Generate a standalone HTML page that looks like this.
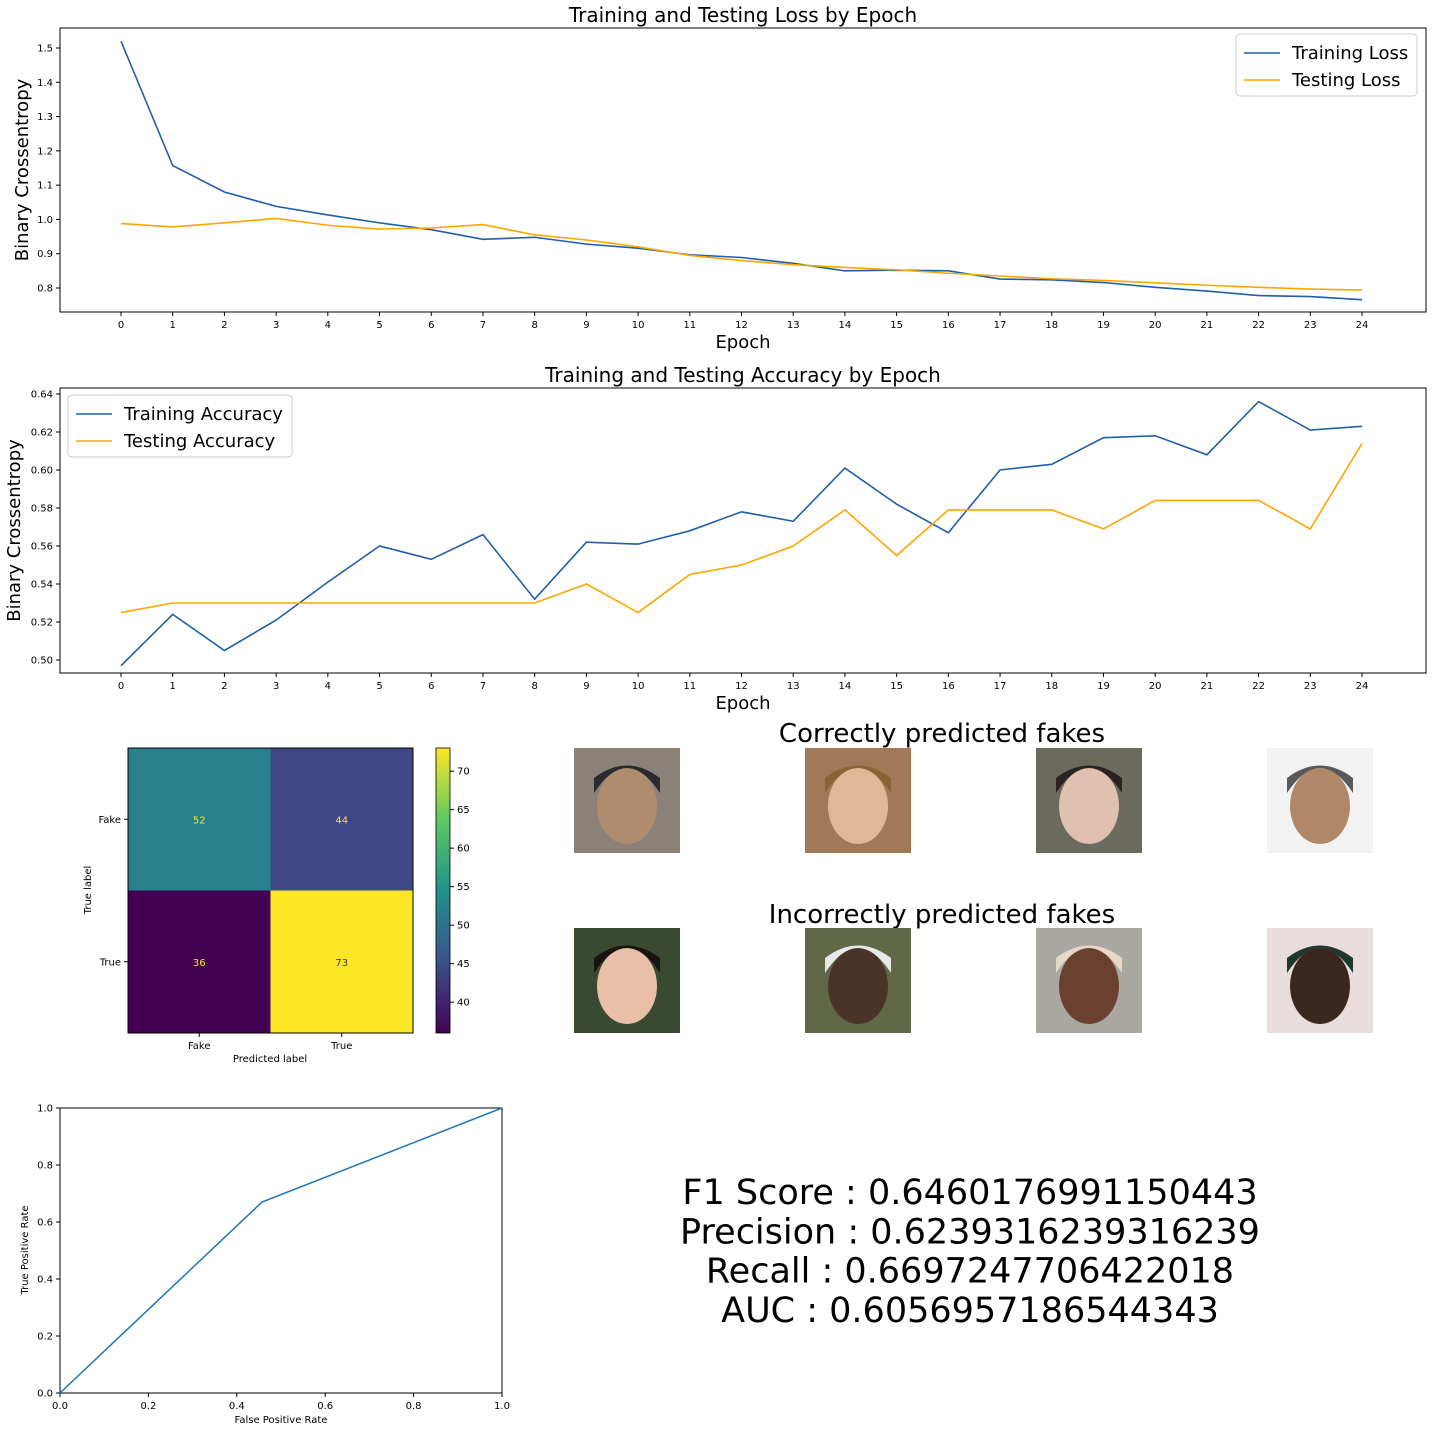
<!DOCTYPE html>
<html><head><meta charset="utf-8"><style>
body{margin:0;background:#fff;}
svg{display:block;font-family:"DejaVu Sans","Liberation Sans",sans-serif;}
</style></head><body>
<svg id="s" width="1432" height="1432" xmlns="http://www.w3.org/2000/svg">
<defs>
<linearGradient id="vir" x1="0" y1="1" x2="0" y2="0">
<stop offset="0" stop-color="#440154"/><stop offset="0.25" stop-color="#3b528b"/><stop offset="0.5" stop-color="#21918c"/><stop offset="0.75" stop-color="#5ec962"/><stop offset="1" stop-color="#fde725"/>
</linearGradient>
</defs>
</svg>
<script>
const epochs=[0,1,2,3,4,5,6,7,8,9,10,11,12,13,14,15,16,17,18,19,20,21,22,23,24];
const trainLoss=[1.52,1.157,1.08,1.038,1.013,0.99,0.97,0.942,0.948,0.928,0.916,0.897,0.889,0.872,0.85,0.852,0.85,0.826,0.824,0.816,0.802,0.791,0.778,0.775,0.766];
const testLoss=[0.988,0.978,0.99,1.003,0.983,0.972,0.975,0.985,0.955,0.94,0.92,0.895,0.88,0.868,0.86,0.853,0.843,0.835,0.827,0.822,0.815,0.808,0.802,0.797,0.794];
const lossTicks=[0.8,0.9,1.0,1.1,1.2,1.3,1.4,1.5];
const trainAcc=[0.497,0.524,0.505,0.521,0.541,0.56,0.553,0.566,0.532,0.562,0.561,0.568,0.578,0.573,0.601,0.582,0.567,0.6,0.603,0.617,0.618,0.608,0.636,0.621,0.623];
const testAcc=[0.525,0.53,0.53,0.53,0.53,0.53,0.53,0.53,0.53,0.54,0.525,0.545,0.55,0.56,0.579,0.555,0.579,0.579,0.579,0.569,0.584,0.584,0.584,0.569,0.614];
const accTicks=[0.50,0.52,0.54,0.56,0.58,0.60,0.62,0.64];
const cmLabels=["Fake","True"];
const cmValues=[[52,44],[36,73]];
const cbTicks=[40,45,50,55,60,65,70];
const rocFpr=[0,0.457,1];
const rocTpr=[0,0.67,1];
const rocTicks=[0,0.2,0.4,0.6,0.8,1.0];
const metrics=["F1 Score : 0.6460176991150443","Precision : 0.6239316239316239","Recall : 0.6697247706422018","AUC : 0.6056957186544343"];

const S=document.getElementById('s');const NS='http://www.w3.org/2000/svg';
function el(t,a,txt,p){const e=document.createElementNS(NS,t);for(const k in a)e.setAttribute(k,a[k]);if(txt!==undefined)e.textContent=txt;(p||S).appendChild(e);return e;}
const BLUE='#1f5fa8',ORANGE='#ffa500';

function lineChart(o){
  const g=el('g',{});
  const X=i=>o.x0+(i/24)*(o.x1-o.x0);
  const Y=v=>o.yA+(v-o.vA)/(o.vB-o.vA)*(o.yB-o.yA);
  el('rect',{x:o.L,y:o.T,width:o.R-o.L,height:o.B-o.T,fill:'none',stroke:'#000','stroke-width':1},undefined,g);
  epochs.forEach(e=>{const x=X(e);el('line',{x1:x,x2:x,y1:o.B,y2:o.B+4,stroke:'#000'},undefined,g);
    const t=el('text',{x:x,y:o.B+16,'font-size':10,'text-anchor':'middle'},String(e),g);});
  o.ticks.forEach(v=>{const y=Y(v);el('line',{x1:o.L-4,x2:o.L,y1:y,y2:y,stroke:'#000'},undefined,g);
    const t=el('text',{x:o.L-7,y:y+3.5,'font-size':10,'text-anchor':'end'},v.toFixed(o.dec),g);});
  [[o.s1,BLUE,'training-line'],[o.s2,ORANGE,'testing-line']].forEach(([d,c,n])=>{
    const p=el('polyline',{points:d.map((v,i)=>X(epochs[i])+','+Y(v)).join(' '),fill:'none',stroke:c,'stroke-width':1.6},undefined,g);
    });
  let t=el('text',{x:(o.L+o.R)/2,y:o.T-6,'font-size':20,'text-anchor':'middle'},o.title,g);
  t=el('text',{x:(o.L+o.R)/2,y:o.B+36,'font-size':18,'text-anchor':'middle'},'Epoch',g);
  t=el('text',{x:0,y:0,'font-size':18,'text-anchor':'middle',transform:`translate(${o.ytx},${(o.T+o.B)/2}) rotate(-90)`},'Binary Crossentropy',g);
  const lg=el('g',{},undefined,g);
  el('rect',{x:o.lx,y:o.ly,width:o.lw,height:62,rx:4,fill:'#fff',stroke:'#ccc'},undefined,lg);
  o.labels.forEach((lb,i)=>{const yy=o.ly+19+i*27;
    el('line',{x1:o.lx+8,x2:o.lx+44,y1:yy,y2:yy,stroke:i?ORANGE:BLUE,'stroke-width':1.6},undefined,lg);
    const tt=el('text',{x:o.lx+56,y:yy+6,'font-size':18},lb,lg);});
}
lineChart({name:'loss-chart',L:60,R:1426,T:28,B:312,x0:121,x1:1362,vA:1.5,yA:48,vB:0.8,yB:288,ticks:lossTicks,dec:1,s1:trainLoss,s2:testLoss,title:'Training and Testing Loss by Epoch',ytx:28,lx:1236,ly:34,lw:181,labels:['Training Loss','Testing Loss']});
lineChart({name:'accuracy-chart',L:60,R:1426,T:388,B:673,x0:121,x1:1362,vA:0.64,yA:394,vB:0.50,yB:660,ticks:accTicks,dec:2,s1:trainAcc,s2:testAcc,title:'Training and Testing Accuracy by Epoch',ytx:20,lx:68,ly:395,lw:224,labels:['Training Accuracy','Testing Accuracy']});

// confusion matrix
(function(){
  const g=el('g',{});
  const L=128,T=748,W=285,vmin=36,vmax=73;
  const stops=[[0,[68,1,84]],[0.25,[59,82,139]],[0.5,[33,145,140]],[0.75,[94,201,98]],[1,[253,231,37]]];
  function cmap(v){const t=(v-vmin)/(vmax-vmin);for(let i=1;i<stops.length;i++){if(t<=stops[i][0]){const a=stops[i-1],b=stops[i],f=(t-a[0])/(b[0]-a[0]);return 'rgb('+a[1].map((c,k)=>Math.round(c+(b[1][k]-c)*f)).join(',')+')';}}return 'rgb(253,231,37)';}
  const cw=W/2;
  cmValues.forEach((row,r)=>row.forEach((v,c)=>{
    const rc=el('rect',{x:L+c*cw,y:T+r*cw,width:cw,height:cw,fill:cmap(v)},undefined,g);
    const t=el('text',{x:L+c*cw+cw/2,y:T+r*cw+cw/2+4,'font-size':10,'text-anchor':'middle',fill:v>60?'#3b3b3b':'#fde725'},String(v),g);
  }));
  el('rect',{x:L,y:T,width:W,height:W,fill:'none',stroke:'#000'},undefined,g);
  cmLabels.forEach((lb,i)=>{const c=L+i*cw+cw/2;
    el('line',{x1:c,x2:c,y1:T+W,y2:T+W+4,stroke:'#000'},undefined,g);
    el('text',{x:c,y:T+W+16,'font-size':10,'text-anchor':'middle'},lb,g);
    el('line',{x1:L-4,x2:L,y1:T+c-L,y2:T+c-L,stroke:'#000'},undefined,g);
    el('text',{x:L-7,y:T+c-L+3.5,'font-size':10,'text-anchor':'end'},lb,g);});
  el('text',{x:270,y:1062,'font-size':10,'text-anchor':'middle'},'Predicted label',g);
  el('text',{x:0,y:0,'font-size':10,'text-anchor':'middle',transform:'translate(91,890) rotate(-90)'},'True label',g);
  const cb=el('rect',{x:436,y:748,width:14,height:285,fill:'url(#vir)',stroke:'#000','stroke-width':0.8},undefined,g);
  cbTicks.forEach(v=>{const y=1033-(v-vmin)/(vmax-vmin)*285;el('line',{x1:450,x2:454,y1:y,y2:y,stroke:'#000'},undefined,g);el('text',{x:457,y:y+3.5,'font-size':10},String(v),g);});
})();

// faces
(function(){
  let t=el('text',{x:942,y:742,'font-size':26,'text-anchor':'middle'},'Correctly predicted fakes');
  t=el('text',{x:942,y:923,'font-size':26,'text-anchor':'middle'},'Incorrectly predicted fakes');
  const xs=[574,805,1036,1267];
  const faces=[[['#8a8278','#b08c6e','#2a2a30'],['#a07a58','#e0b898','#8a6238'],['#6a6a5e','#e0c0b0','#2a2220'],['#f2f2f2','#b08868','#5a5858']],
               [['#3a4a30','#e8c0a8','#1a1410'],['#606848','#4a3428','#e8e8e8'],['#a8a8a0','#6a4030','#e8d8c8'],['#e8dcdc','#3a2820','#1e3830']]];
  faces.forEach((row,r)=>row.forEach((f,i)=>{
    const g=el('g',{});
    const x=xs[i],y=r?928:748;
    el('rect',{x:x,y:y,width:106,height:105,fill:f[0]},undefined,g);
    el('ellipse',{cx:x+53,cy:y+58,rx:30,ry:38,fill:f[1]},undefined,g);
    el('path',{d:`M${x+20} ${y+45} Q${x+53} ${y-5} ${x+86} ${y+45} L${x+86} ${y+30} Q${x+53} ${y+5} ${x+20} ${y+30}Z`,fill:f[2]},undefined,g);
  }));
})();

// ROC
(function(){
  const g=el('g',{});
  const L=60,R=502,T=1108,B=1393;
  const X=v=>L+v*(R-L),Y=v=>B-v*(B-T);
  el('rect',{x:L,y:T,width:R-L,height:B-T,fill:'none',stroke:'#000'},undefined,g);
  rocTicks.forEach(v=>{el('line',{x1:X(v),x2:X(v),y1:B,y2:B+4,stroke:'#000'},undefined,g);el('text',{x:X(v),y:B+16,'font-size':10,'text-anchor':'middle'},v.toFixed(1),g);
    el('line',{x1:L-4,x2:L,y1:Y(v),y2:Y(v),stroke:'#000'},undefined,g);el('text',{x:L-7,y:Y(v)+3.5,'font-size':10,'text-anchor':'end'},v.toFixed(1),g);});
  const p=el('polyline',{points:rocFpr.map((v,i)=>X(v)+','+Y(rocTpr[i])).join(' '),fill:'none',stroke:'#1f77b4','stroke-width':1.5},undefined,g);
  el('text',{x:281,y:1423,'font-size':10,'text-anchor':'middle'},'False Positive Rate',g);
  el('text',{x:0,y:0,'font-size':10,'text-anchor':'middle',transform:'translate(28,1250) rotate(-90)'},'True Positive Rate',g);
})();

// metrics
metrics.forEach((m,i)=>{const t=el('text',{x:970,y:1204+i*39.3,'font-size':35,'text-anchor':'middle'},m);});
</script>
</body></html>
